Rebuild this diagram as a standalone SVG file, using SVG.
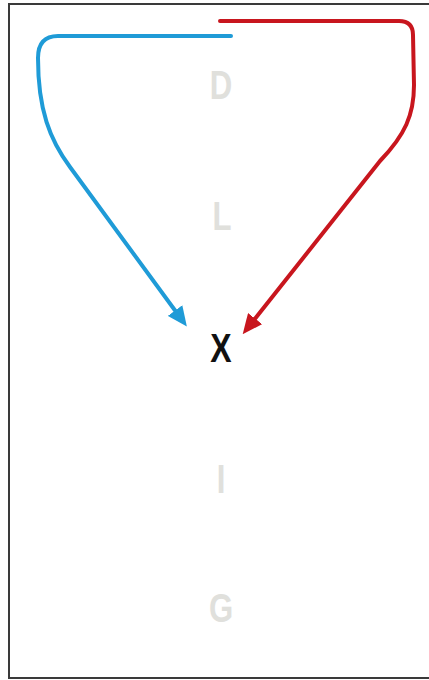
<svg xmlns="http://www.w3.org/2000/svg" width="429" height="680" viewBox="0 0 429 680">
<style>
.lbl{font-family:"Liberation Sans",Arial,sans-serif;font-weight:bold;font-size:41px;text-anchor:middle;fill:#e0e0dc}
.lx{fill:#111111}
.conn{fill:none;stroke-width:4;stroke-linecap:round;stroke-linejoin:round}
</style>
<defs>
<marker id="ab" viewBox="0 0 20 18" markerWidth="20" markerHeight="18" refX="5" refY="9" orient="auto" markerUnits="userSpaceOnUse"><path d="M0,0 L20,9 L0,18 Z" fill="#1f9bd7"/></marker>
<marker id="ar" viewBox="0 0 20 18" markerWidth="20" markerHeight="18" refX="5" refY="9" orient="auto" markerUnits="userSpaceOnUse"><path d="M0,0 L20,9 L0,18 Z" fill="#c8161e"/></marker>
</defs>
<rect x="0" y="0" width="429" height="680" fill="#ffffff"/>
<rect x="9" y="4" width="440" height="674" fill="#ffffff" stroke="#3a3a3a" stroke-width="2"/>
<g id="node-D"><text class="lbl" transform="translate(221,99) scale(0.76,1)">D</text></g>
<g id="node-L"><text class="lbl" transform="translate(222,230) scale(0.76,1)">L</text></g>
<g id="node-X"><text class="lbl lx" transform="translate(221,362) scale(0.78,1)">X</text></g>
<g id="node-I"><text class="lbl" transform="translate(221,493) scale(0.76,1)">I</text></g>
<g id="node-G"><text class="lbl" transform="translate(221,622) scale(0.76,1)">G</text></g>
<g id="connectors">
<path class="conn" stroke="#1f9bd7" d="M231,36 H58 Q38,36 38,58 C38,110 50,140 70,167 L178,314.5" marker-end="url(#ab)"/>
<path class="conn" stroke="#c8161e" d="M220,21 H399 Q413,21 413,35 L414,85 C414,115 405,135 380,161 L252,322.5" marker-end="url(#ar)"/>
</g>
</svg>
